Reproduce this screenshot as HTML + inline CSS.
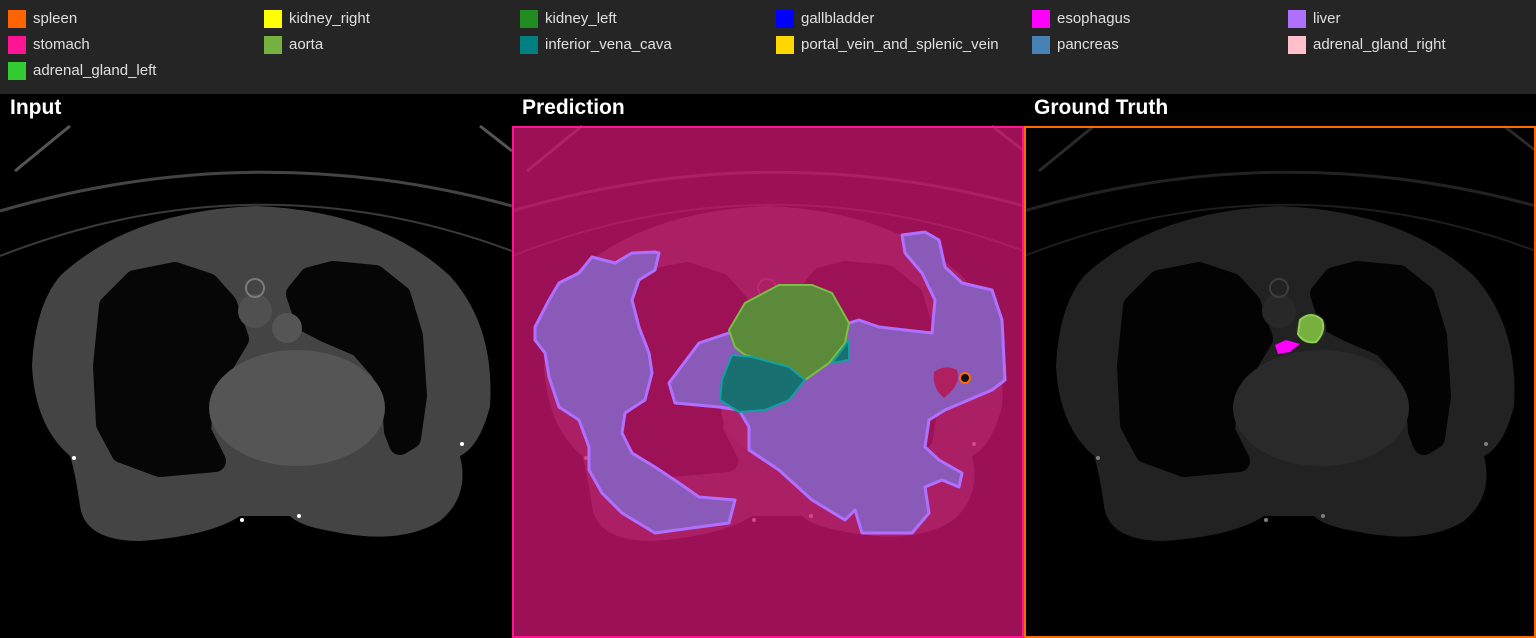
<!DOCTYPE html>
<html><head><meta charset="utf-8"><style>
body{margin:0;width:1536px;height:638px;background:#000;overflow:hidden;font-family:"Liberation Sans",sans-serif}
#legend{position:absolute;left:0;top:0;width:1536px;height:94px;background:#252525}
.li{position:absolute;height:20px;font-size:15px;color:#e0e0e0;line-height:20px}
.li i{position:absolute;left:0;top:1px;width:18px;height:18px}
.li span{position:absolute;left:25px;white-space:nowrap}
.title{position:absolute;top:96px;font-size:21px;font-weight:bold;color:#fff}
svg{position:absolute;left:0;top:0}
</style></head><body>
<div id="legend"></div>
<div class="title" style="left:10px">Input</div>
<div class="title" style="left:522px">Prediction</div>
<div class="title" style="left:1034px">Ground Truth</div>
<svg width="1536" height="638">
<defs>
<g id="ct">
<rect width="512" height="512" fill="#000"/>
<path d="M0,85 Q256,10 512,80" stroke="#444" stroke-width="3" fill="none"/>
<path d="M0,130 Q256,30 512,125" stroke="#3a3a3a" stroke-width="2" fill="none"/>
<path d="M15,45 L70,0 M480,0 L512,25" stroke="#555" stroke-width="3"/>
<path d="M60,150 Q130,85 256,80 Q380,85 450,150 Q495,200 490,280 Q480,320 460,330 Q470,370 440,395 Q400,420 330,405 Q300,400 290,390 L240,390 Q210,410 140,415 Q85,415 80,380 Q75,345 70,330 Q35,300 32,240 Q35,180 60,150 Z" fill="#444"/>
<path d="M110,180 L135,155 175,147 208,158 226,178 238,213 220,243 202,280 200,305 215,335 160,340 122,326 107,298 104,240Z" fill="#060606" stroke="#060606" stroke-width="22" stroke-linejoin="round"/>
<path d="M297,168 L310,152 333,146 375,150 400,170 412,210 416,270 410,312 400,318 395,305 393,278 382,245 360,220 325,205 306,195Z" fill="#060606" stroke="#060606" stroke-width="22" stroke-linejoin="round"/>
<ellipse cx="297" cy="282" rx="88" ry="58" fill="#555"/>
<circle cx="287" cy="202" r="15" fill="#555"/>
<circle cx="255" cy="185" r="17" fill="#505050"/>
<circle cx="255" cy="162" r="9" fill="none" stroke="#7a7a7a" stroke-width="2"/>
<circle cx="74" cy="332" r="2" fill="#fff"/><circle cx="242" cy="394" r="2" fill="#fff"/><circle cx="299" cy="390" r="2" fill="#fff"/><circle cx="462" cy="318" r="2" fill="#fff"/>
</g>
</defs>
<g transform="translate(0,126)"><use href="#ct"/></g>
<g transform="translate(512,126)">
<use href="#ct"/>
<rect width="512" height="512" fill="rgb(200,20,110)" opacity="0.78"/>
<g fill="#8a5ab8" stroke="#b070ff" stroke-width="3" stroke-linejoin="round">
<path d="M147,127 L143,144 127,154 120,174 127,201 137,227 140,247 133,274 113,287 110,307 120,327 143,341 167,357 187,371 223,374 217,397 187,401 143,407 110,387 90,367 77,344 77,321 67,294 47,281 37,251 33,227 23,214 23,201 37,174 47,157 67,147 80,131 103,137 120,127 143,126Z"/>
<path d="M217,207 L187,217 157,257 163,277 207,281 227,284 237,301 237,324 267,344 300,374 333,394 343,384 350,407 400,407 417,387 413,361 430,354 447,361 450,347 427,334 413,321 417,294 433,284 480,264 493,254 490,194 480,164 450,157 433,141 427,114 413,106 390,109 393,127 410,147 423,174 420,207 393,204 367,201 347,194 337,197 290,227Z"/>
</g>
<path d="M217,204 L233,177 267,159 300,159 320,167 337,197 333,217 317,237 293,254 277,241 233,229 223,221Z" fill="#5a8a3a" stroke="#78c040" stroke-width="2"/>
<path d="M220,229 L240,231 277,241 293,254 277,274 253,284 227,286 208,274 210,254Z" fill="#1a7070" stroke="#10a0a0" stroke-width="2"/>
<path d="M320,237 L337,214 337,234Z" fill="#1a7070" stroke="#10a0a0" stroke-width="2"/>
<path d="M422,246 Q433,238 445,244 Q450,258 432,272 Q420,262 422,246Z" fill="#b02060"/>
<circle cx="453" cy="252" r="5" fill="#111" stroke="#ff6a00" stroke-width="2"/>
<rect x="1" y="1" width="510" height="510" fill="none" stroke="#ff1493" stroke-width="2"/>
</g>
<g transform="translate(1024,126)">
<g opacity="0.5"><use href="#ct"/></g>
<path d="M276,194 Q287,184 298,194 Q302,206 292,216 Q280,218 274,208Z" fill="#78b040" stroke="#90d050" stroke-width="2"/>
<path d="M251,219 L262,214 276,218 266,226 254,228Z" fill="#ff00ff"/>
<rect x="1" y="1" width="510" height="510" fill="none" stroke="#ff6a00" stroke-width="2"/>
</g>
</svg>
<script>
const names=["spleen","kidney_right","kidney_left","gallbladder","esophagus","liver","stomach","aorta","inferior_vena_cava","portal_vein_and_splenic_vein","pancreas","adrenal_gland_right","adrenal_gland_left"];
const colors=["#ff6400","#ffff00","#228b22","#0000ff","#ff00ff","#b070ff","#ff1493","#76b041","#008080","#ffd700","#4682b4","#ffc0cb","#32cd32"];
const lg=document.getElementById('legend');
names.forEach((n,i)=>{
const d=document.createElement('div');
d.className='li';
d.style.left=(8+256*(i%6))+'px';
d.style.top=(9+26*Math.floor(i/6))+'px';
d.innerHTML='<i style="background:'+colors[i]+'"></i><span>'+n+'</span>';


lg.appendChild(d);
});
</script>
</body></html>
